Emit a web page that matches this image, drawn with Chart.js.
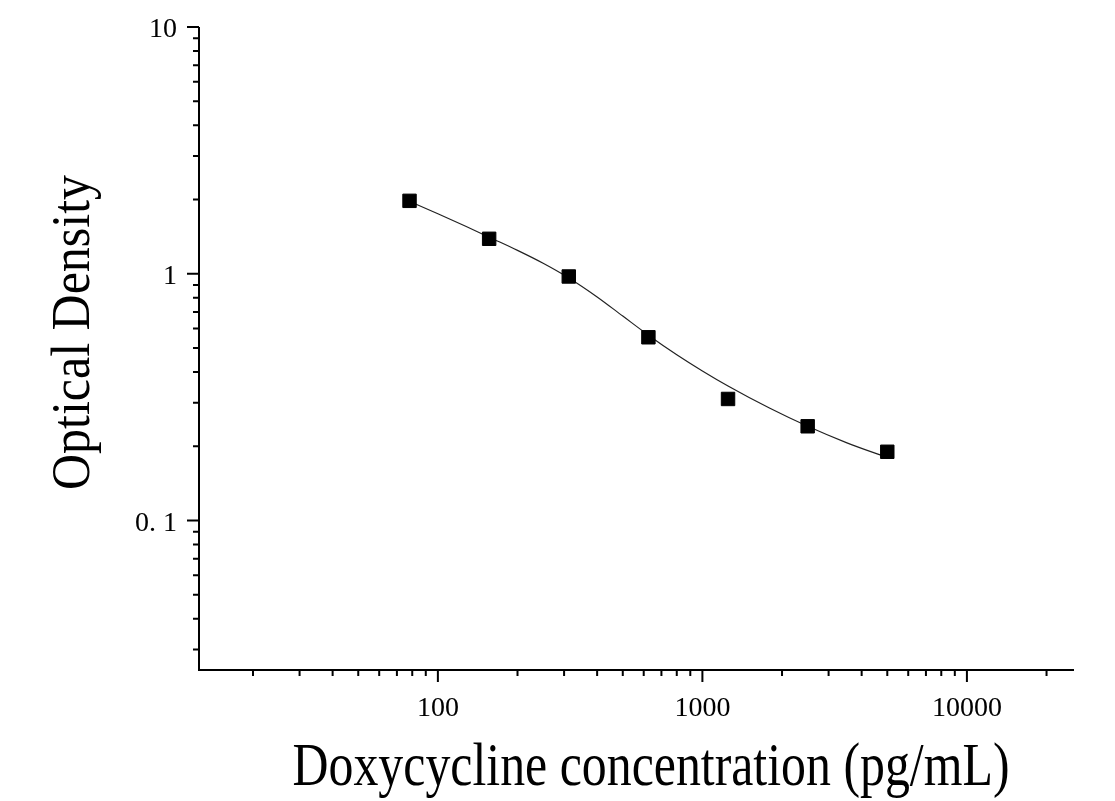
<!DOCTYPE html>
<html>
<head>
<meta charset="utf-8">
<script src="https://cdn.jsdelivr.net/npm/chart.js@4.4.1/dist/chart.umd.min.js"></script>
<style>
  html, body { margin: 0; padding: 0; background: #fff; }
  canvas { display: block; }
</style>
</head>
<body>
<canvas id="myChart" width="1115" height="801"></canvas>
<script>
// standards (pg/mL) and their optical density
const concentrations = [78.125, 156.25, 312.5, 625, 1250, 2500, 5000];
const odValues = [1.975, 1.386, 0.975, 0.553, 0.311, 0.241, 0.190];

// fitted curve
const fitConc = [78.125, 100, 128, 156.25, 200, 250, 312.5, 400, 500, 625, 800, 1000, 1250, 1800, 2500, 3500, 5000];
const fitOd = [1.966, 1.751, 1.555, 1.407, 1.244, 1.103, 0.962, 0.806, 0.674, 0.564, 0.470, 0.404, 0.351, 0.285, 0.241, 0.207, 0.180];

// axes
const xTicks = [100, 1000, 10000];
const xTickLabels = ['100', '1000', '10000'];
const xMinorTicks = [20, 30, 40, 50, 60, 70, 80, 90, 200, 300, 400, 500, 600, 700, 800, 900,
                     2000, 3000, 4000, 5000, 6000, 7000, 8000, 9000, 20000];
const yTicks = [10, 1, 0.1];
const yTickLabels = ['10', '1', '0. 1'];
const yMinorTicks = [9, 8, 7, 6, 5, 4, 3, 2, 0.9, 0.8, 0.7, 0.6, 0.5, 0.4, 0.3, 0.2,
                     0.09, 0.08, 0.07, 0.06, 0.05, 0.04, 0.03];
const xTitle = 'Doxycycline concentration (pg/mL)';
const yTitle = 'Optical Density';

const serif = '"Liberation Serif", "Times New Roman", serif';

// axis lines, tick marks and titles
const axisPlugin = {
    id: 'axisTicks',
    afterDraw(chart) {
        const ctx = chart.ctx;
        const a = chart.chartArea;
        const x = chart.scales.x, y = chart.scales.y;
        ctx.save();
        ctx.strokeStyle = '#000';
        ctx.lineWidth = 2;
        ctx.beginPath();
        ctx.moveTo(a.left, a.top);
        ctx.lineTo(a.left, a.bottom);
        ctx.lineTo(a.right, a.bottom);
        ctx.stroke();

        ctx.beginPath();
        xTicks.forEach(v => { const px = x.getPixelForValue(v); ctx.moveTo(px, a.bottom); ctx.lineTo(px, a.bottom + 12); });
        xMinorTicks.forEach(v => { const px = x.getPixelForValue(v); ctx.moveTo(px, a.bottom); ctx.lineTo(px, a.bottom + 6); });
        yTicks.forEach(v => { const py = y.getPixelForValue(v); ctx.moveTo(a.left, py); ctx.lineTo(a.left - 12, py); });
        yMinorTicks.forEach(v => { const py = y.getPixelForValue(v); ctx.moveTo(a.left, py); ctx.lineTo(a.left - 6, py); });
        ctx.stroke();

        // titles (glyphs in the picture are a bit taller than plain Times)
        ctx.fillStyle = '#000';
        ctx.textAlign = 'center';
        ctx.textBaseline = 'alphabetic';
        ctx.font = '62px ' + serif;
        let w = ctx.measureText(xTitle).width;
        ctx.save();
        ctx.translate(651, 785);
        ctx.scale(717 / w, 1);
        ctx.fillText(xTitle, 0, 0);
        ctx.restore();

        ctx.font = '54px ' + serif;
        w = ctx.measureText(yTitle).width;
        ctx.save();
        ctx.translate(89, 332.5);
        ctx.rotate(-Math.PI / 2);
        ctx.scale(315 / w, 1);
        ctx.fillText(yTitle, 0, 0);
        ctx.restore();
        ctx.restore();
    }
};

const ctx = document.getElementById('myChart').getContext('2d');
const odChart = new Chart(ctx, {
    type: 'scatter',
    data: {
        datasets: [{
            label: 'Standards',
            data: concentrations.map((c, i) => ({x: c, y: odValues[i]})),
            pointStyle: 'rect',
            pointRadius: 9.5,
            backgroundColor: '#000',
            borderColor: '#000',
            borderWidth: 1,
            order: 1
        }, {
            label: 'Fit',
            type: 'line',
            data: fitConc.map((c, i) => ({x: c, y: fitOd[i]})),
            borderColor: '#222',
            borderWidth: 1.2,
            pointRadius: 0,
            cubicInterpolationMode: 'monotone',
            fill: false,
            order: 2
        }]
    },
    options: {
        responsive: false,
        animation: false,
        devicePixelRatio: 1,
        layout: { autoPadding: false, padding: { top: 27, right: 41, left: 0, bottom: 0 } },
        plugins: { legend: { display: false }, tooltip: { enabled: false } },
        scales: {
            x: {
                type: 'logarithmic',
                min: 12.5,
                max: 25400,
                grid: { display: false, drawTicks: false },
                border: { display: false },
                afterFit: s => { s.height = 131; s.paddingLeft = 0; s.paddingRight = 0; },
                afterBuildTicks: s => { s.ticks = xTicks.map(v => ({value: v})); },
                ticks: {
                    padding: 22,
                    maxRotation: 0,
                    autoSkip: false,
                    color: '#000',
                    font: { family: serif, size: 28 },
                    callback: v => xTickLabels[xTicks.indexOf(v)]
                }
            },
            y: {
                type: 'logarithmic',
                min: 0.0248,
                max: 10,
                grid: { display: false, drawTicks: false },
                border: { display: false },
                afterFit: s => { s.width = 199; s.paddingTop = 0; s.paddingBottom = 0; },
                afterBuildTicks: s => { s.ticks = yTicks.map(v => ({value: v})); },
                ticks: {
                    padding: 22,
                    labelOffset: 3,
                    autoSkip: false,
                    color: '#000',
                    font: { family: serif, size: 28 },
                    callback: v => yTickLabels[yTicks.indexOf(v)]
                }
            }
        }
    },
    plugins: [axisPlugin]
});
</script>
</body>
</html>
